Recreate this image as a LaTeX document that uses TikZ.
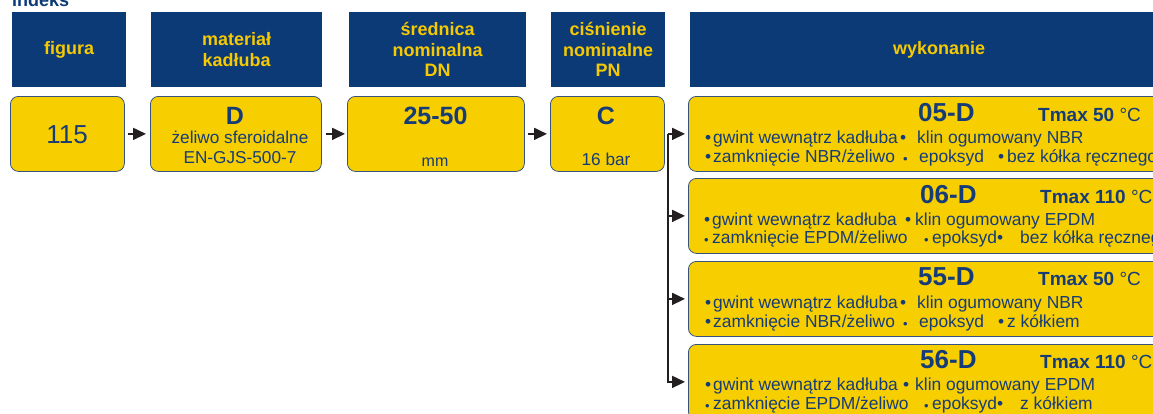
\documentclass[tikz,border=0pt]{standalone}
\usepackage{fontspec}
\setmainfont{Liberation Sans}
\usetikzlibrary{arrows.meta}
\definecolor{hblue}{HTML}{0B3A77}
\definecolor{ayellow}{HTML}{F7CE00}
\definecolor{hyellow}{HTML}{F6C900}
\definecolor{tblue}{HTML}{163C78}
\definecolor{bord}{HTML}{35557F}
\definecolor{arrc}{HTML}{231F20}
\begin{document}
\begin{tikzpicture}[x=1pt,y=-1pt,
 hdr/.style={fill=hblue, draw=none, anchor=north west, inner sep=0pt, text=hyellow, align=center, minimum height=75pt, font=\bfseries\fontsize{18}{20.5}\selectfont},
 ybox/.style={fill=ayellow, draw=bord, line width=0.8pt, rounded corners=8pt, anchor=north west, inner sep=0pt, minimum height=75pt},
 txt/.style={text=tblue, inner sep=0pt, anchor=base},
 big/.style={txt, font=\bfseries\fontsize{25}{25}\selectfont},
 mid/.style={txt, font=\fontsize{17.2}{17.2}\selectfont},
 ln/.style={text=tblue, inner sep=0pt, anchor=base west, font=\fontsize{17.4}{17.4}\selectfont},
 sb/.style={text=tblue, inner sep=0pt, anchor=base west, font=\fontsize{13}{13}\selectfont},
 ttl/.style={ln, font=\bfseries\fontsize{26}{26}\selectfont},
 tmx/.style={ln, font=\bfseries\fontsize{19}{19}\selectfont},
 arr/.style={draw=arrc, line width=1.8pt, -{Triangle[length=13pt,width=12pt]}}
]
\useasboundingbox (0,0) rectangle (1153,413);
\clip (0,0) rectangle (1153,413);

\node[anchor=base west, text=hblue, inner sep=0pt, font=\bfseries\fontsize{18}{18}\selectfont] (idx) at (12,6) {indeks};

% headers
\node[hdr, minimum width=114pt] (h1) at (12,12) {figura};
\node[hdr, minimum width=171pt] (h2) at (151,12) {materiał\\kadłuba};
\node[hdr, minimum width=177pt] (h3) at (349,12) {średnica\\nominalna\\DN};
\node[hdr, minimum width=114pt] (h4) at (551,12) {ciśnienie\\nominalne\\PN};
\node[hdr, minimum width=498pt] (h5) at (690,12) {wykonanie};

% first row boxes
\node[ybox, minimum width=114pt] (y1) at (10,96) {};
\node[ybox, minimum width=171pt] (y2) at (150,96) {};
\node[ybox, minimum width=177pt] (y3) at (347,96) {};
\node[ybox, minimum width=114pt] (y4) at (550,96) {};

\node[txt, font=\fontsize{26}{26}\selectfont] (t115) at (67,143) {115};
\node[big] (tD) at (235,124) {D};
\node[mid] (tD1) at (240,143) {żeliwo sferoidalne};
\node[mid] (tD2) at (240,163) {EN-GJS-500-7};
\node[big] (tDN) at (435.5,124) {25-50};
\node[mid, font=\fontsize{16}{16}\selectfont] (tmm) at (435,166) {mm};
\node[big] (tC) at (606,124) {C};
\node[mid] (tbar) at (606,165) {16 bar};

% option boxes
\node[ybox, minimum width=500pt] (o1) at (688,96) {};
\node[ybox, minimum width=500pt] (o2) at (688,178) {};
\node[ybox, minimum width=500pt] (o3) at (688,261) {};
\node[ybox, minimum width=500pt] (o4) at (688,344) {};

% o1
\node[ttl] (o1t) at (918,121) {05-D};
\node[tmx] (o1m) at (1038,121) {Tmax 50 \mdseries°C};
\node[ln] (o1a) at (705,143) {•};
\node[ln] (o1b) at (713,143) {gwint wewnątrz kadłuba};
\node[ln] (o1c) at (900,143) {•};
\node[ln] (o1d) at (917,143) {klin ogumowany NBR};
\node[ln] (o1e) at (705,162) {•};
\node[ln] (o1f) at (713,162) {zamknięcie NBR/żeliwo};
\node[sb] (o1g) at (903,163) {•};
\node[ln] (o1h) at (919,162) {epoksyd};
\node[ln] (o1i) at (998,162) {•};
\node[ln] (o1j) at (1007,162) {bez kółka ręcznego};

% o2
\node[ttl] (o2t) at (920,203) {06-D};
\node[tmx] (o2m) at (1040,203) {Tmax 110 \mdseries°C};
\node[ln] (o2a) at (704,225) {•};
\node[ln] (o2b) at (712,225) {gwint wewnątrz kadłuba};
\node[ln] (o2c) at (905,225) {•};
\node[ln] (o2d) at (915,225) {klin ogumowany EPDM};
\node[sb] (o2e) at (704,244) {•};
\node[ln] (o2f) at (712,243) {zamknięcie EPDM/żeliwo};
\node[sb] (o2g) at (924,244) {•};
\node[ln] (o2h) at (932,243) {epoksyd};
\node[ln] (o2i) at (997,243) {•};
\node[ln] (o2j) at (1020,243) {bez kółka ręcznego};

% o3
\node[ttl] (o3t) at (918,285) {55-D};
\node[tmx] (o3m) at (1038,285) {Tmax 50 \mdseries°C};
\node[ln] (o3a) at (705,308) {•};
\node[ln] (o3b) at (713,308) {gwint wewnątrz kadłuba};
\node[ln] (o3c) at (900,308) {•};
\node[ln] (o3d) at (917,308) {klin ogumowany NBR};
\node[ln] (o3e) at (705,327) {•};
\node[ln] (o3f) at (713,327) {zamknięcie NBR/żeliwo};
\node[sb] (o3g) at (903,328) {•};
\node[ln] (o3h) at (919,327) {epoksyd};
\node[ln] (o3i) at (998,327) {•};
\node[ln] (o3j) at (1007,327) {z kółkiem};

% o4
\node[ttl] (o4t) at (920,368) {56-D};
\node[tmx] (o4m) at (1040,368) {Tmax 110 \mdseries°C};
\node[ln] (o4a) at (705,390) {•};
\node[ln] (o4b) at (713,390) {gwint wewnątrz kadłuba};
\node[ln] (o4c) at (903,390) {•};
\node[ln] (o4d) at (915,390) {klin ogumowany EPDM};
\node[sb] (o4e) at (705,410) {•};
\node[ln] (o4f) at (713,409) {zamknięcie EPDM/żeliwo};
\node[sb] (o4g) at (924,410) {•};
\node[ln] (o4h) at (932,409) {epoksyd};
\node[ln] (o4i) at (997,409) {•};
\node[ln] (o4j) at (1020,409) {z kółkiem};

% connectors
\draw[arr, shorten <=3pt, shorten >=4pt] (y1.east) -- (y2.west);
\draw[arr, shorten <=4pt, shorten >=2pt] (y2.east) -- (y3.west);
\draw[arr, shorten <=3pt, shorten >=3pt] (y3.east) -- (y4.west);
\coordinate (j) at ([xshift=3pt]y4.east);
\draw[arr, shorten >=3pt] (j) -- (o1.west);
\draw[arr, shorten >=3pt] (j) |- (o2.west);
\draw[arr, shorten >=3pt] (j) |- (o3.west);
\draw[arr, shorten >=3pt] (j) |- (o4.west);
\end{tikzpicture}
\end{document}
